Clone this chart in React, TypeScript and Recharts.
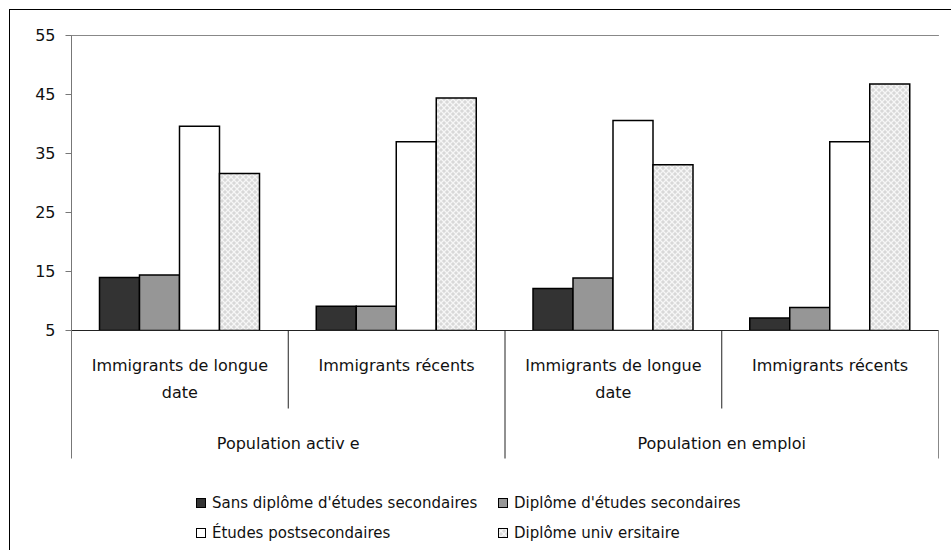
import React from 'react'
import {
  BarChart,
  Bar,
  XAxis,
  YAxis,
  CartesianGrid,
  ReferenceLine,
} from 'recharts'

const categories = [
  'Immigrants de longue date',
  'Immigrants récents',
  'Immigrants de longue date',
  'Immigrants récents',
]
const groups = ['Population activ e', 'Population en emploi']

const sansDiplome = [14.0, 9.1, 12.1, 7.1]
const diplomeSecondaires = [14.4, 9.1, 13.9, 8.9]
const postsecondaires = [39.6, 37.0, 40.6, 37.0]
const universitaire = [31.6, 44.4, 33.1, 46.8]

const seriesNames = [
  "Sans diplôme d'études secondaires",
  "Diplôme d'études secondaires",
  'Études postsecondaires',
  'Diplôme univ ersitaire',
]
const yTicks = [5, 15, 25, 35, 45, 55]

const data = categories.map((cat, i) => ({
  cat,
  s0: sansDiplome[i],
  s1: diplomeSecondaires[i],
  s2: postsecondaires[i],
  s3: universitaire[i],
}))

const FONT = '"DejaVu Sans", sans-serif'
const fills = ['#333333', '#969696', '#ffffff', 'url(#hatch)']

// split long labels into two lines at the last space that fits
function wrap(label: string, max = 20): string[] {
  if (label.length <= max) return [label]
  const cut = label.lastIndexOf(' ', max)
  return [label.slice(0, cut), label.slice(cut + 1)]
}

function CategoryTick(props: any) {
  const { x, y, payload, index, width } = props
  const band = width / categories.length
  const left = x - band / 2
  const lines = wrap(String(payload.value))
  const startsGroup = index % 2 === 0
  const isLast = index === categories.length - 1
  return (
    <g>
      <line
        x1={left}
        x2={left}
        y1={y}
        y2={y + (startsGroup ? 128 : 78)}
        stroke={index === 0 ? '#777' : '#222'}
      />
      {isLast && (
        <line x1={x + band / 2} x2={x + band / 2} y1={y} y2={y + 128} stroke="#888" />
      )}
      {lines.map((line, k) => (
        <text
          key={k}
          x={x}
          y={y + 40 + k * 27}
          textAnchor="middle"
          fontSize={16}
          fontFamily={FONT}
          fill="#111"
        >
          {line}
        </text>
      ))}
      {startsGroup && (
        <text
          x={x + band / 2}
          y={y + 118}
          textAnchor="middle"
          fontSize={16}
          fontFamily={FONT}
          fill="#111"
        >
          {groups[index / 2]}
        </text>
      )}
    </g>
  )
}

function HatchDefs() {
  return (
    <defs>
      <pattern id="hatch" width="6" height="6" patternUnits="userSpaceOnUse">
        <rect width="6" height="6" fill="#d8d8d8" />
        <path d="M0,0 L6,6 M6,0 L0,6" stroke="#f6f6f6" strokeWidth="1.3" />
      </pattern>
    </defs>
  )
}

const legendSlots = [
  { left: 196, top: 494 },
  { left: 498, top: 494 },
  { left: 196, top: 524 },
  { left: 498, top: 524 },
]

function LegendBlock() {
  return (
    <>
      {seriesNames.map((name, i) => (
        <div
          key={name}
          style={{
            position: 'absolute',
            left: legendSlots[i].left,
            top: legendSlots[i].top,
            display: 'flex',
            alignItems: 'center',
            fontFamily: FONT,
            fontSize: 15,
            color: '#111',
            whiteSpace: 'nowrap',
          }}
        >
          <svg width={10} height={10} style={{ marginRight: 6 }}>
            <HatchDefs />
            <rect x={0.5} y={0.5} width={9} height={9} fill={fills[i]} stroke="#000" />
          </svg>
          {name}
        </div>
      ))}
    </>
  )
}

export default function App() {
  return (
    <div
      style={{
        position: 'absolute',
        left: 0,
        top: 0,
        width: 951,
        height: 550,
        overflow: 'hidden',
        background: '#fff',
      }}
    >
      <div
        style={{
          position: 'absolute',
          left: 9,
          top: 9,
          width: 980,
          height: 580,
          border: '1px solid #000',
        }}
      />
      <div style={{ position: 'absolute', left: 0, top: 0 }}>
        <BarChart
          width={951}
          height={550}
          data={data}
          margin={{ top: 35.5, right: 12.5, bottom: 91.5, left: 11.5 }}
          barCategoryGap={28}
          barGap={0}
        >
          <HatchDefs />
          <CartesianGrid vertical={false} stroke="#333" />
          <XAxis
            dataKey="cat"
            interval={0}
            height={128}
            tickLine={false}
            tickSize={0}
            tickMargin={0}
            axisLine={{ stroke: '#222' }}
            tick={<CategoryTick />}
          />
          <YAxis
            yAxisId="left"
            domain={[5, 55]}
            ticks={yTicks}
            allowDataOverflow
            width={60}
            tickSize={6}
            tickMargin={10}
            axisLine={{ stroke: '#777' }}
            tickLine={{ stroke: '#777' }}
            tick={{ fill: '#111', fontSize: 16, fontFamily: FONT }}
          />
          <YAxis
            yAxisId="right"
            orientation="right"
            width={0}
            tick={false}
            tickLine={false}
            axisLine={{ stroke: '#888' }}
          />
          <ReferenceLine yAxisId="left" y={55} stroke="#888" />
          {['s0', 's1', 's2', 's3'].map((key, i) => (
            <Bar
              key={key}
              yAxisId="left"
              dataKey={key}
              name={seriesNames[i]}
              fill={fills[i]}
              stroke="#000"
              strokeWidth={1.5}
              isAnimationActive={false}
            />
          ))}
        </BarChart>
      </div>
      <LegendBlock />
    </div>
  )
}
